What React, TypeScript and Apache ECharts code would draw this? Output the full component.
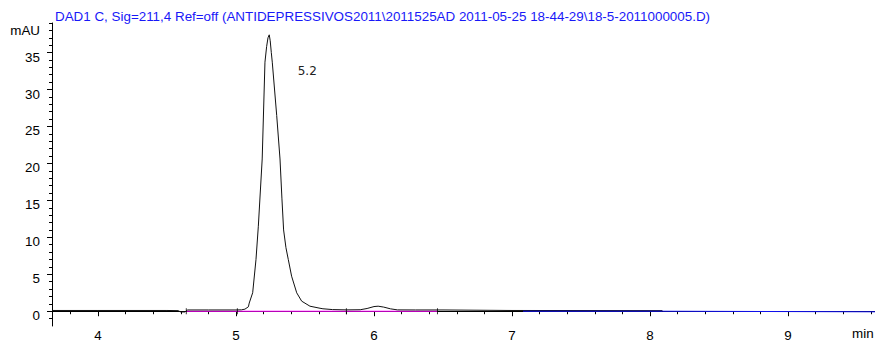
import React, { useEffect, useRef } from "react";
import * as echarts from "echarts";

const titleText =
  "DAD1 C, Sig=211,4 Ref=off (ANTIDEPRESSIVOS2011\\2011525AD 2011-05-25 18-44-29\\18-5-2011000005.D)";

const traceTimes = [
  3.667, 4.0, 4.5, 4.58, 4.6, 4.63, 4.65, 4.8, 5.0, 5.04, 5.065, 5.09, 5.096, 5.121, 5.145, 5.162, 5.19,
  5.21, 5.222, 5.232, 5.241, 5.248, 5.256, 5.263, 5.295, 5.319, 5.333, 5.345, 5.362, 5.379, 5.403, 5.44,
  5.476, 5.536, 5.609, 5.63, 5.7, 5.8, 5.9, 5.95, 6.0, 6.03, 6.07, 6.12, 6.17, 6.3, 6.5, 7.0, 8.09,
];
const traceValues = [
  0.1, 0.1, 0.1, 0.08, -0.1, -0.1, 0.17, 0.17, 0.17, 0.19, 0.28, 0.6, 1.1, 2.5, 7.0, 11.5, 20.6, 33.7,
  35.8, 37.0, 37.4, 36.6, 35.0, 33.7, 26.5, 20.6, 15.2, 11.0, 8.6, 7.0, 4.74, 2.49, 1.36, 0.68, 0.4, 0.33,
  0.22, 0.18, 0.2, 0.37, 0.63, 0.68, 0.56, 0.32, 0.18, 0.17, 0.17, 0.1, 0.08,
];

const baselineTimes = [4.64, 6.46];
const baselineValues = [0, 0];

const blueTimes = [7.08, 8.09, 8.09, 9.63];
const blueValues = [0, 0, -0.08, -0.08];

const eventTimes = [4.64, 5.01, 5.8, 6.46];

const peakTime = 5.241;
const peakHeight = 37.4;
const peakLabel = "5.2";

const xMajorTicks = [4, 5, 6, 7, 8, 9];
const xMinorTicks = [
  3.8, 4.2, 4.4, 4.6, 4.8, 5.2, 5.4, 5.6, 5.8, 6.2, 6.4, 6.6, 6.8, 7.2, 7.4, 7.6, 7.8, 8.2, 8.4, 8.6, 8.8,
  9.2, 9.4, 9.6,
];
const yMajorTicks = [0, 5, 10, 15, 20, 25, 30, 35];
const yMinorTicks = [
  -1, 1, 2, 3, 4, 6, 7, 8, 9, 11, 12, 13, 14, 16, 17, 18, 19, 21, 22, 23, 24, 26, 27, 28, 29, 31, 32, 33,
  34, 36, 37, 38, 39,
];

const X_MIN = 3.667;
const X_MAX = 9.63;
const Y_MIN = -2;
const Y_MAX = 39;

const zip = (a: number[], b: number[]) => a.map((t, i) => [t, b[i]]);

export default function App() {
  const ref = useRef<HTMLDivElement>(null);
  useEffect(() => {
    if (!ref.current) return;
    const chart = echarts.init(ref.current, null, { renderer: "svg" });
    const labelFont = { fontFamily: "Liberation Sans", fontSize: 13.4, color: "#000" };
    const axisLine = { show: true, lineStyle: { color: "#000", width: 1 } };
    chart.setOption({
      animation: false,
      backgroundColor: "#fff",
      grid: { left: 52, right: 0, top: 23, bottom: 15 },
      xAxis: [
        {
          type: "value",
          min: X_MIN,
          max: X_MAX,
          position: "bottom",
          axisLine,
          splitLine: { show: false },
          axisTick: { show: true, customValues: xMajorTicks, length: 5, lineStyle: { color: "#000" } },
          axisLabel: { show: true, customValues: xMajorTicks, margin: 3, ...labelFont },
        },
        {
          type: "value",
          min: X_MIN,
          max: X_MAX,
          position: "bottom",
          axisLine: { show: false },
          splitLine: { show: false },
          axisTick: { show: true, customValues: xMinorTicks, length: 3, lineStyle: { color: "#000" } },
          axisLabel: { show: false },
        },
      ],
      yAxis: [
        {
          type: "value",
          min: Y_MIN,
          max: Y_MAX,
          position: "left",
          axisLine,
          splitLine: { show: false },
          axisTick: { show: true, customValues: yMajorTicks, length: 5, lineStyle: { color: "#000" } },
          axisLabel: {
            show: true,
            customValues: yMajorTicks,
            margin: 12,
            verticalAlign: "top",
            lineHeight: 9,
            ...labelFont,
          },
        },
        {
          type: "value",
          min: Y_MIN,
          max: Y_MAX,
          position: "left",
          axisLine: { show: false },
          splitLine: { show: false },
          axisTick: { show: true, customValues: yMinorTicks, length: 3, lineStyle: { color: "#000" } },
          axisLabel: { show: false },
        },
      ],
      graphic: [
        {
          type: "text",
          left: 55,
          top: 10,
          style: { text: titleText, fill: "#1818f8", font: "13.4px 'Liberation Sans'" },
        },
        {
          type: "text",
          right: 835,
          top: 24,
          style: { text: "mAU", fill: "#000", font: "13.4px 'Liberation Sans'" },
        },
        {
          type: "text",
          left: 852,
          top: 327,
          style: { text: "min", fill: "#000", font: "13.4px 'Liberation Sans'" },
        },
      ],
      series: [
        {
          type: "line",
          xAxisIndex: 0,
          yAxisIndex: 0,
          data: zip(baselineTimes, baselineValues),
          showSymbol: false,
          lineStyle: { color: "#ff00ff", width: 1 },
          z: 2,
        },
        {
          type: "line",
          xAxisIndex: 0,
          yAxisIndex: 0,
          data: zip(traceTimes, traceValues),
          showSymbol: false,
          lineStyle: { color: "#111", width: 1 },
          z: 3,
          markPoint: {
            symbol: "circle",
            symbolSize: 0,
            data: [
              {
                coord: [peakTime, peakHeight],
                label: {
                  show: true,
                  position: "inside",
                  formatter: peakLabel,
                  offset: [38, 36],
                  fontFamily: "DejaVu Sans",
                  fontSize: 12,
                  color: "#222",
                },
              },
            ],
          },
        },
        {
          type: "line",
          xAxisIndex: 0,
          yAxisIndex: 0,
          data: zip(blueTimes, blueValues),
          showSymbol: false,
          lineStyle: { color: "#1010f0", width: 1 },
          z: 4,
        },
        {
          type: "scatter",
          xAxisIndex: 0,
          yAxisIndex: 0,
          data: eventTimes.map((t) => [t, 0]),
          symbol: "rect",
          symbolSize: [1, 6],
          itemStyle: { color: "#000" },
          z: 5,
        },
      ],
    });
    return () => chart.dispose();
  }, []);
  return <div ref={ref} style={{ width: 875, height: 342, position: "fixed", left: 0, top: 0 }} />;
}
